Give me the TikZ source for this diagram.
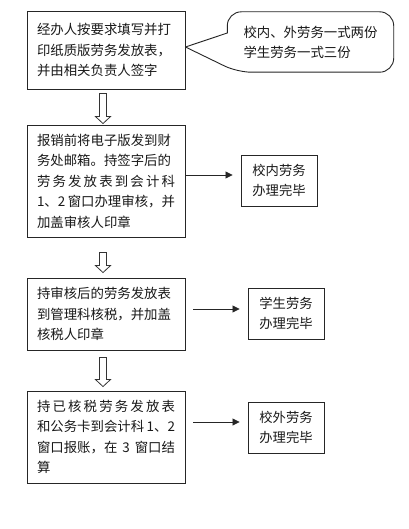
\documentclass[tikz,border=0pt]{standalone}
\usepackage{fontspec}
\newfontfamily\cjk{Noto Sans CJK SC}
\usetikzlibrary{arrows.meta,calc}
\newcommand\spreadline[1]{\makebox[\linewidth][s]{#1}}
\newcommand\hollowarrow[4]{%
  \draw[harrow] let \p1=($(#1.south)+(-3,#3)$), \p2=($(#2.north)+(-3,-#4)$) in
   (\x1-3.5pt,\y1) -- (\x1+3.5pt,\y1) -- (\x1+3.5pt,\y2+7pt) -- (\x1+7.5pt,\y2+7pt)
   -- (\x1,\y2) -- (\x1-7.5pt,\y2+7pt) -- (\x1-3.5pt,\y2+7pt) -- cycle;}
\tikzset{
  box/.style={draw=black!85, line width=0.9pt, text width=138pt, align=left,
    inner xsep=10pt, inner ysep=0pt, text=black!90,
    font=\cjk\fontsize{13.4}{20.5}\selectfont},
  sbox/.style={draw=black!85, line width=0.9pt, minimum width=76pt, minimum height=51pt,
    align=center, inner sep=0pt, text=black!90,
    font=\cjk\fontsize{13.3}{19.5}\selectfont},
  harrow/.style={draw=black!80, line width=0.8pt, fill=white},
  arr/.style={draw=black!85, line width=0.8pt, -{Triangle[length=7pt,width=7pt]}},
  notetext/.style={minimum width=166pt, minimum height=60pt, inner sep=0pt, align=left,
    text=black!90, font=\cjk\fontsize{13.4}{20}\selectfont},
  noteline/.style={draw=black!85, line width=0.9pt}
}
\begin{document}
\begin{tikzpicture}[x=1pt,y=-1pt]
\useasboundingbox[fill=white] (0,0) rectangle (408,529);

\node[box, minimum height=78pt] (b1) at (106,50)
  {经办人按要求填写并打\\印纸质版劳务发放表，\\并由相关负责人签字};
\node[box, minimum height=112pt] (b2) at (106,181)
  {报销前将电子版发到财\\务处邮箱。持签字后的\\
   \spreadline{劳\hfil 务\hfil 发\hfil 放\hfil 表\hfil 到\hfil 会\hfil 计\hfil 科}\\
   \spreadline{1、2\hfil 窗口办理审核，并}\\加盖审核人印章};
\node[box, minimum height=72pt] (b3) at (106,314)
  {持审核后的劳务发放表\\到管理科核税，并加盖\\核税人印章};
\node[box, minimum height=92pt] (b4) at (106,437)
  {\spreadline{持\hfil 已\hfil 核\hfil 税\hfil 劳\hfil 务\hfil 发\hfil 放\hfil 表}\\
   \spreadline{和公务卡到会计科\hfil 1、2}\\
   \spreadline{窗口报账，在\hfil 3\hfil 窗口结}\\算};

\node[sbox] (r1) at (279,180.5) {校内劳务\\办理完毕};
\node[sbox] (r2) at (286,313.5) {学生劳务\\办理完毕};
\node[sbox] (r3) at (286,427.5) {校外劳务\\办理完毕};

\node[notetext] (note) at (310.5,42) {校内、外劳务一式两份\\学生劳务一式三份};
\draw[noteline] ([yshift=3pt]b1.east) -- ([yshift=9pt]note.west)
  [rounded corners=14pt] -- (note.north west) -- (note.north east)
  -- (note.south east) -- ([xshift=10pt]note.south west)
  [sharp corners] -- ([yshift=3pt]b1.east);

\hollowarrow{b1}{b2}{4}{1}
\hollowarrow{b2}{b3}{15}{5}
\hollowarrow{b3}{b4}{7}{4}

\draw[arr, shorten >=8pt] ([yshift=6pt]b2.east) -- ([yshift=6pt]b2.east -| r1.west);
\draw[arr, shorten <=8pt, shorten >=8pt] ([yshift=5pt]b3.east) -- ([yshift=5pt]b3.east -| r2.west);
\draw[arr, shorten <=8pt, shorten >=8pt] ([yshift=15pt]b4.east) -- ([yshift=15pt]b4.east -| r3.west);
\end{tikzpicture}
\end{document}
